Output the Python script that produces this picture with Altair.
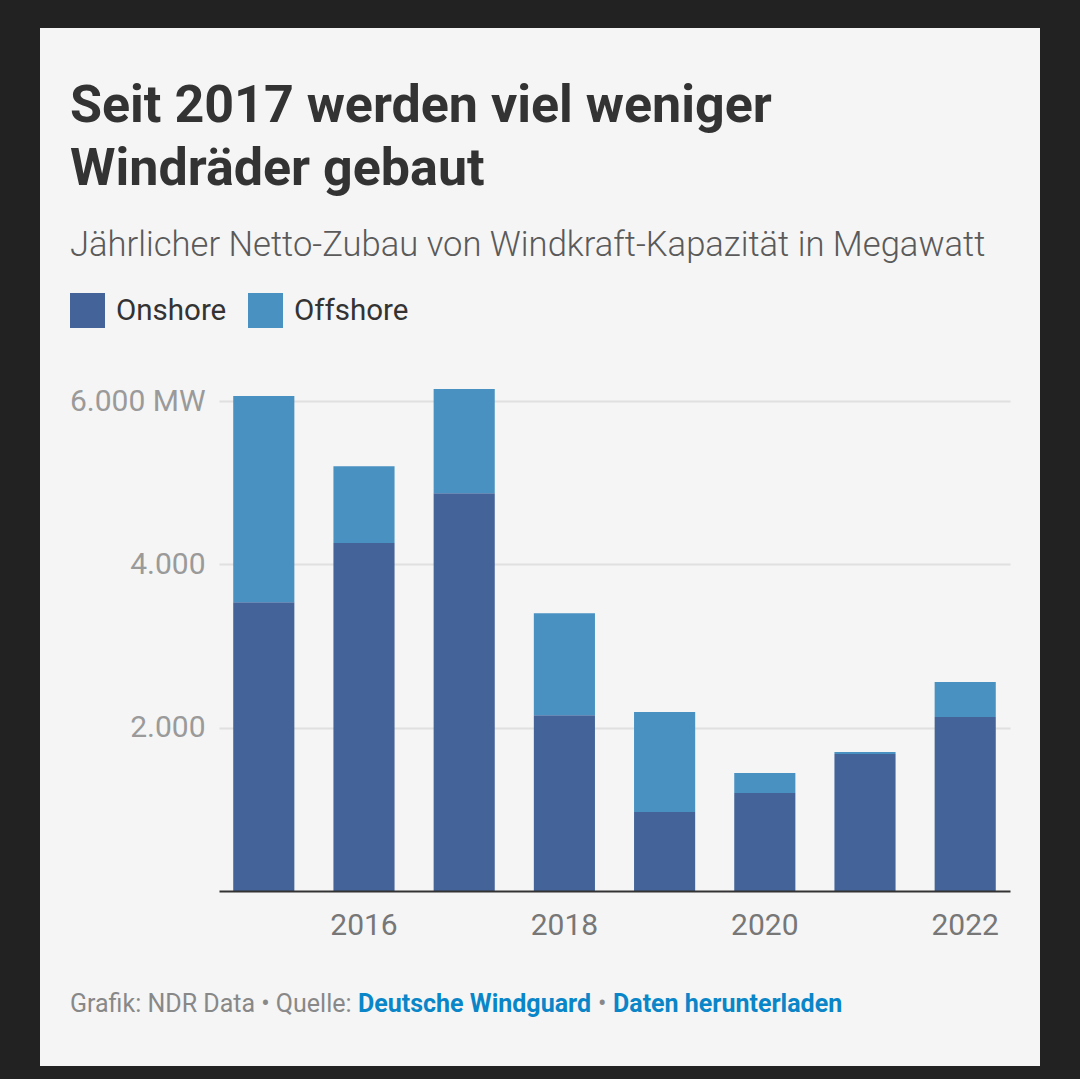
import altair as alt
import pandas as pd

# ---------------- data ----------------
years = [2015, 2016, 2017, 2018, 2019, 2020, 2021, 2022]
onshore = [3536, 4261, 4872, 2151, 968, 1200, 1678, 2132]
offshore = [2526, 940, 1274, 1250, 1225, 246, 25, 428]
series = ["Onshore", "Offshore"]
series_colors = ["#436399", "#4891c1"]
x_tick_years = [2016, 2018, 2020, 2022]
y_ticks = [2000, 4000, 6000]
y_tick_labels = ["2.000", "4.000", "6.000 MW"]

title_lines = ["Seit 2017 werden viel weniger", "Windräder gebaut"]
subtitle_text = "Jährlicher Netto-Zubau von Windkraft-Kapazität in Megawatt"
footer_gray_1 = "Grafik: NDR Data • Quelle:"
footer_link_1 = "Deutsche Windguard"
footer_sep = "•"
footer_link_2 = "Daten herunterladen"

rows = []
for i, yr in enumerate(years):
    rows.append({"Jahr": yr, "Typ": series[0], "MW": onshore[i], "k": 0})
    rows.append({"Jahr": yr, "Typ": series[1], "MW": offshore[i], "k": 1})
df = pd.DataFrame(rows)

label_expr = " : ".join(
    f"datum.value == {v} ? '{l}'" for v, l in zip(y_ticks, y_tick_labels)
) + " : ''"

FONT = "Roboto"
one = alt.InlineData(values=[{"a": 1}])

# ---------------- layout (plot area origin at 219, 370) ----------------
OX, OY = 219, 370

bars = alt.Chart(df).mark_bar().encode(
    x=alt.X(
        "Jahr:O",
        scale=alt.Scale(paddingInner=0.39, paddingOuter=0.142),
        axis=alt.Axis(
            values=x_tick_years, title=None, labelAngle=0, ticks=False,
            domain=True, domainColor="#333333", domainWidth=2,
            labelFontSize=30, labelColor="#777777", labelFont=FONT,
            labelPadding=19, grid=False, zindex=1,
        ),
    ),
    y=alt.Y(
        "MW:Q", stack="zero",
        scale=alt.Scale(domain=[0, 6380], nice=False),
        axis=alt.Axis(
            values=y_ticks, labelExpr=label_expr, title=None, domain=False,
            ticks=False, gridColor="#e0e0e0", gridWidth=2,
            labelFontSize=30, labelColor="#9a9a9a", labelFont=FONT,
            labelPadding=14,
        ),
    ),
    color=alt.Color(
        "Typ:N",
        scale=alt.Scale(domain=series, range=series_colors),
        legend=alt.Legend(
            orient="none", legendX=70 - OX, legendY=293 - OY,
            direction="horizontal", title=None, symbolType="square",
            symbolSize=1225, symbolStrokeWidth=0, symbolOpacity=1,
            labelFontSize=29.5, labelFont=FONT, labelColor="#333333",
            labelOffset=11, columnPadding=21, padding=0,
        ),
    ),
    order=alt.Order("k:Q", sort="ascending"),
)

# dark outer frame around the light panel
frame = alt.Chart(one).mark_rect(
    fillOpacity=0, stroke="#222222", strokeWidth=80
).encode(
    x=alt.value(0 - OX), x2=alt.value(1080 - OX),
    y=alt.value(-12 - OY), y2=alt.value(1106 - OY),
)

title = alt.Chart(one).mark_text(
    align="left", baseline="alphabetic", font=FONT,
    fontSize=52, fontWeight="bold", color="#333333", lineHeight=63,
).encode(x=alt.value(70 - OX), y=alt.value(122 - OY), text=alt.value(title_lines))

subtitle = alt.Chart(one).mark_text(
    align="left", baseline="alphabetic", font="'Roboto Light', Roboto", fontSize=34.6,
    fontWeight=300, color="#5a5a5a",
).encode(x=alt.value(70 - OX), y=alt.value(256 - OY), text=alt.value(subtitle_text))

def foot(text, x, color, weight):
    return alt.Chart(one).mark_text(
        align="left", baseline="alphabetic", font=FONT, fontSize=25,
        fontWeight=weight, color=color,
    ).encode(x=alt.value(x - OX), y=alt.value(1012 - OY), text=alt.value(text))

footer = [
    foot(footer_gray_1, 70, "#888888", "normal"),
    foot(footer_link_1, 358, "#0a86c8", "bold"),
    foot(footer_sep, 598, "#888888", "normal"),
    foot(footer_link_2, 613, "#0a86c8", "bold"),
]

chart = alt.layer(bars, title, subtitle, *footer, frame).properties(
    width=791, height=521,
    padding={"left": OX, "top": OY, "right": 70, "bottom": 188},
    autosize=alt.AutoSizeParams(type="none"),
    background="#f5f5f5",
).configure_view(strokeWidth=0)

chart.save("out.html", embed_options={"renderer": "svg", "actions": False})
